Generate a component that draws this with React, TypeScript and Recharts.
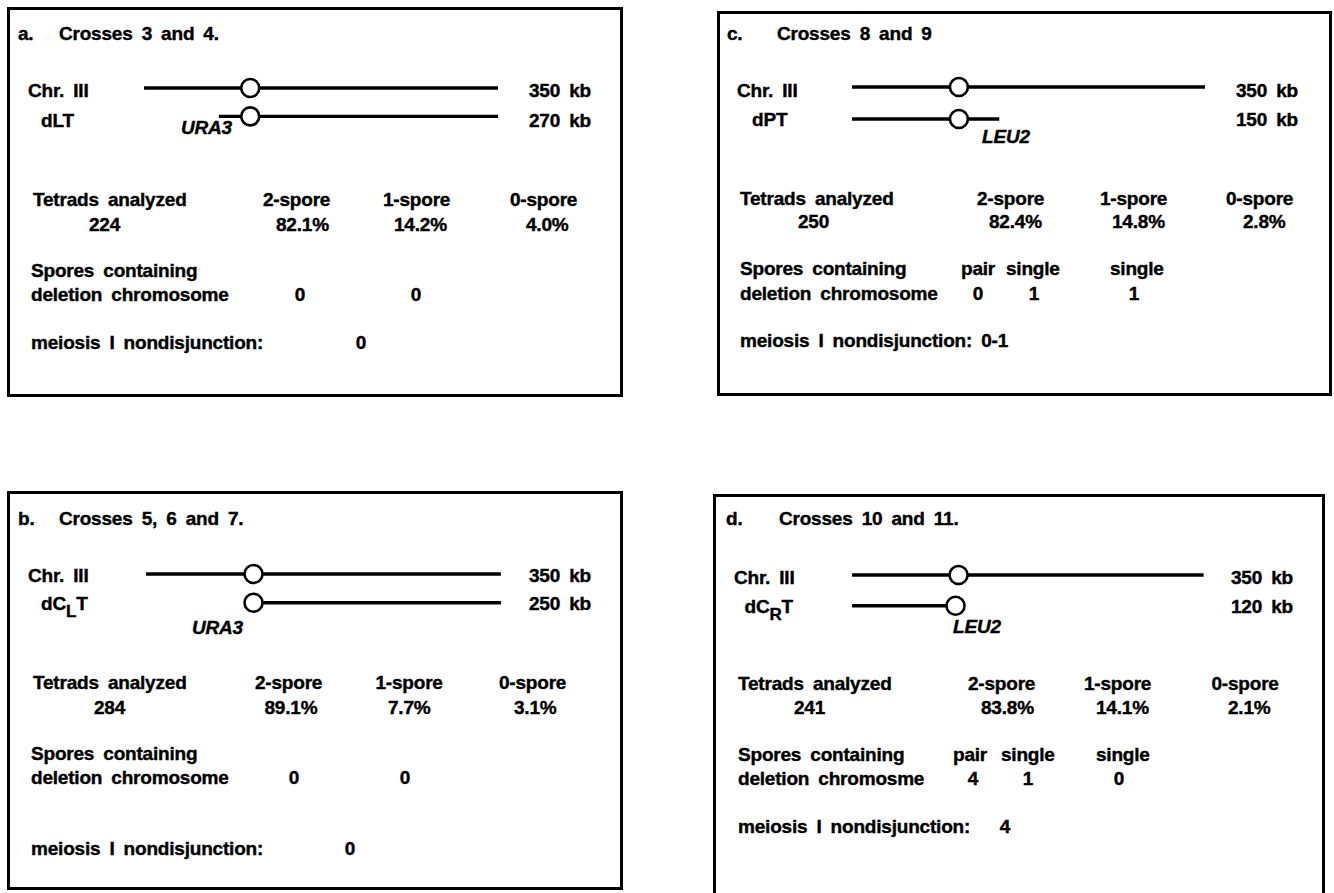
import React from 'react';
import { ComposedChart, Line, Scatter, XAxis, YAxis } from 'recharts';

// ---------- data (panels in order a, b, c, d) ----------
const panelLetters = ['a.', 'b.', 'c.', 'd.'];
const crossNames = ['Crosses 3 and 4.', 'Crosses 5, 6 and 7.', 'Crosses 8 and 9', 'Crosses 10 and 11.'];
const chromosomeName = 'Chr. III';
const chrIIISize = '350 kb';
const derivativeBase = ['dLT', 'dC', 'dPT', 'dC'];
const derivativeSub = ['', 'L', '', 'R'];
const derivativeSizes = ['270 kb', '250 kb', '150 kb', '120 kb'];
const markers = ['URA3', 'URA3', 'LEU2', 'LEU2'];
const tetrads = ['224', '284', '250', '241'];
const twoSpore = ['82.1%', '89.1%', '82.4%', '83.8%'];
const oneSpore = ['14.2%', '7.7%', '14.8%', '14.1%'];
const zeroSpore = ['4.0%', '3.1%', '2.8%', '2.1%'];
const deletionWord = ['deletion chromosome', 'deletion chromosome', 'deletion chromosome', 'deletion chromosme'];
const sporeHeaders = [[], [], ['pair', 'single', 'single'], ['pair', 'single', 'single']];
const sporeCounts = [['0', '0'], ['0', '0'], ['0', '1', '1'], ['4', '1', '0']];
const nondisjunction = ['0', '0', '0-1', '4'];

// chromosome geometry in kb
const chrIIIKb = [0, 350];
const centromereKb = [105, 106, 106, 106];
const derivativeSpanKb = [[74, 350], [106, 350], [0, 146], [0, 103]];
const derivativeCentromereKb = [105, 106, 106, 103];

// ---------- layout ----------
const FONT = '"Liberation Sans", Arial, Helvetica, sans-serif';
const boxes = [
  { l: 7, t: 7, r: 623, b: 397 },
  { l: 7, t: 491, r: 623, b: 890 },
  { l: 717, t: 11, r: 1332, b: 396 },
  { l: 713, t: 494, r: 1325, b: 920 },
];
const chartGeom = [
  { x0: 143.5, x1: 497.6, yChr: 88.3, yDer: 116.7 },
  { x0: 146, x1: 501, yChr: 574, yDer: 602.7 },
  { x0: 851.6, x1: 1204.6, yChr: 87.3, yDer: 119.3 },
  { x0: 851.6, x1: 1203.4, yChr: 575, yDer: 605.7 },
];
type Lay = {
  letter: [number, number]; title: [number, number];
  chr: [number, number]; chrSize: [number, number];
  der: [number, number]; derSize: [number, number]; marker: [number, number];
  tetH: [number, number]; tetV: [number, number];
  twoH: [number, number]; twoV: [number, number];
  oneH: [number, number]; oneV: [number, number];
  zeroH: [number, number]; zeroV: [number, number];
  sp1: [number, number]; sp2: [number, number];
  heads: number[]; headY: number; counts: number[]; countY: number;
  mei: [number, number]; meiVal: [number, number] | null;
};
const layouts: Lay[] = [
  {
    letter: [18, 33], title: [59, 33], chr: [28, 90], chrSize: [529, 90],
    der: [41, 120], derSize: [529, 120], marker: [181, 127],
    tetH: [33, 199], tetV: [89, 224], twoH: [263, 199], twoV: [276, 224],
    oneH: [383, 199], oneV: [394, 224], zeroH: [510, 199], zeroV: [526, 224],
    sp1: [31, 270], sp2: [31, 294], heads: [], headY: 270, counts: [300, 416], countY: 294,
    mei: [31, 342], meiVal: [361, 342],
  },
  {
    letter: [18, 518], title: [59, 518], chr: [28, 575], chrSize: [529, 575],
    der: [41, 603], derSize: [529, 603], marker: [192, 627],
    tetH: [33, 682], tetV: [94, 707], twoH: [255, 682], twoV: [264.5, 707],
    oneH: [375.5, 682], oneV: [388, 707], zeroH: [499, 682], zeroV: [514, 707],
    sp1: [31, 753], sp2: [31, 777], heads: [], headY: 753, counts: [294, 405], countY: 777,
    mei: [31, 848], meiVal: [350, 848],
  },
  {
    letter: [727, 33], title: [777, 33], chr: [737, 90], chrSize: [1236, 90],
    der: [752, 119], derSize: [1236, 119], marker: [982, 136],
    tetH: [740, 198], tetV: [798, 221], twoH: [977, 198], twoV: [989, 221],
    oneH: [1100, 198], oneV: [1112, 221], zeroH: [1226, 198], zeroV: [1243, 221],
    sp1: [740, 268], sp2: [740, 293], heads: [961, 1006, 1110], headY: 268,
    counts: [978, 1034, 1134], countY: 293,
    mei: [740, 340], meiVal: [985, 340],
  },
  {
    letter: [726, 518], title: [779, 518], chr: [734, 577], chrSize: [1231, 577],
    der: [744.5, 606], derSize: [1231, 606], marker: [953, 626],
    tetH: [738, 683], tetV: [794, 707], twoH: [968, 683], twoV: [981, 707],
    oneH: [1084, 683], oneV: [1096, 707], zeroH: [1211.5, 683], zeroV: [1228, 707],
    sp1: [738, 754], sp2: [738, 778], heads: [953, 1001, 1096], headY: 754,
    counts: [973, 1028, 1119], countY: 778,
    mei: [738, 826], meiVal: [1005, 826],
  },
];

const FS = 19;

function T({ x, y, children, center = false, italic = false }: any) {
  return (
    <div
      style={{
        position: 'absolute',
        left: center ? x - 100 : x,
        width: center ? 200 : undefined,
        textAlign: center ? 'center' : 'left',
        top: y - 9.5,
        fontSize: FS,
        lineHeight: FS + 'px',
        fontWeight: 700,
        fontStyle: italic ? 'italic' : 'normal',
        whiteSpace: 'pre',
        wordSpacing: '4px',
        letterSpacing: '-0.2px',
        color: '#000',
        WebkitTextStroke: '0.4px #000',
      }}
    >
      {children}
    </div>
  );
}

const renderCen = (props: any) => (
  <circle cx={props.cx} cy={props.cy} r={9} fill="#fff" stroke="#000" strokeWidth={2.6} />
);

function ChromosomeChart({ i }: { i: number }) {
  const g = chartGeom[i];
  const M = 14;
  const chrData = chrIIIKb.map((kb) => ({ kb, y: 1 }));
  const derData = derivativeSpanKb[i].map((kb) => ({ kb, y: 0 }));
  const cenData = [
    { kb: centromereKb[i], y: 1 },
    { kb: derivativeCentromereKb[i], y: 0 },
  ];
  return (
    <div style={{ position: 'absolute', left: g.x0 - M, top: g.yChr - M }}>
      <ComposedChart
        width={g.x1 - g.x0 + 2 * M}
        height={g.yDer - g.yChr + 2 * M}
        margin={{ top: M, right: M, bottom: M, left: M }}
      >
        <XAxis type="number" dataKey="kb" domain={[0, 350]} hide allowDataOverflow />
        <YAxis type="number" dataKey="y" domain={[0, 1]} hide />
        <Line data={chrData} dataKey="y" type="linear" stroke="#000" strokeWidth={3.4} dot={false} activeDot={false} isAnimationActive={false} />
        <Line data={derData} dataKey="y" type="linear" stroke="#000" strokeWidth={3.4} dot={false} activeDot={false} isAnimationActive={false} />
        <Scatter data={cenData} dataKey="y" shape={renderCen} isAnimationActive={false} />
      </ComposedChart>
    </div>
  );
}

function Panel({ i }: { i: number }) {
  const L = layouts[i];
  const b = boxes[i];
  const sub = derivativeSub[i];
  return (
    <>
      <div
        style={{
          position: 'absolute', left: b.l, top: b.t, width: b.r - b.l, height: b.b - b.t,
          border: '3px solid #000', boxSizing: 'border-box',
        }}
      />
      <ChromosomeChart i={i} />
      <T x={L.letter[0]} y={L.letter[1]}>{panelLetters[i]}</T>
      <T x={L.title[0]} y={L.title[1]}>{crossNames[i]}</T>
      <T x={L.chr[0]} y={L.chr[1]}>{chromosomeName}</T>
      <T x={L.chrSize[0]} y={L.chrSize[1]}>{chrIIISize}</T>
      <T x={L.der[0]} y={L.der[1]}>
        {derivativeBase[i]}
        {sub ? (
          <>
            <span style={{ position: 'relative', top: 7, fontSize: 17 }}>{sub}</span>T
          </>
        ) : null}
      </T>
      <T x={L.derSize[0]} y={L.derSize[1]}>{derivativeSizes[i]}</T>
      <T x={L.marker[0]} y={L.marker[1]} italic>{markers[i]}</T>
      <T x={L.tetH[0]} y={L.tetH[1]}>Tetrads analyzed</T>
      <T x={L.tetV[0]} y={L.tetV[1]}>{tetrads[i]}</T>
      <T x={L.twoH[0]} y={L.twoH[1]}>2-spore</T>
      <T x={L.twoV[0]} y={L.twoV[1]}>{twoSpore[i]}</T>
      <T x={L.oneH[0]} y={L.oneH[1]}>1-spore</T>
      <T x={L.oneV[0]} y={L.oneV[1]}>{oneSpore[i]}</T>
      <T x={L.zeroH[0]} y={L.zeroH[1]}>0-spore</T>
      <T x={L.zeroV[0]} y={L.zeroV[1]}>{zeroSpore[i]}</T>
      <T x={L.sp1[0]} y={L.sp1[1]}>Spores containing</T>
      <T x={L.sp2[0]} y={L.sp2[1]}>{deletionWord[i]}</T>
      {sporeHeaders[i].map((h, k) => (
        <T key={'h' + k} x={L.heads[k]} y={L.headY}>{h}</T>
      ))}
      {sporeCounts[i].map((c, k) => (
        <T key={'c' + k} x={L.counts[k]} y={L.countY} center>{c}</T>
      ))}
      <T x={L.mei[0]} y={L.mei[1]}>
        {i === 2 ? 'meiosis I nondisjunction: ' + nondisjunction[i] : 'meiosis I nondisjunction:'}
      </T>
      {i !== 2 && L.meiVal ? (
        <T x={L.meiVal[0]} y={L.meiVal[1]} center>{nondisjunction[i]}</T>
      ) : null}
    </>
  );
}

export default function App() {
  return (
    <div
      style={{
        position: 'absolute', left: 0, top: 0, width: 1334, height: 893,
        overflow: 'hidden', background: '#fff', fontFamily: FONT,
      }}
    >
      {[0, 1, 2, 3].map((i) => (
        <Panel key={i} i={i} />
      ))}
    </div>
  );
}
